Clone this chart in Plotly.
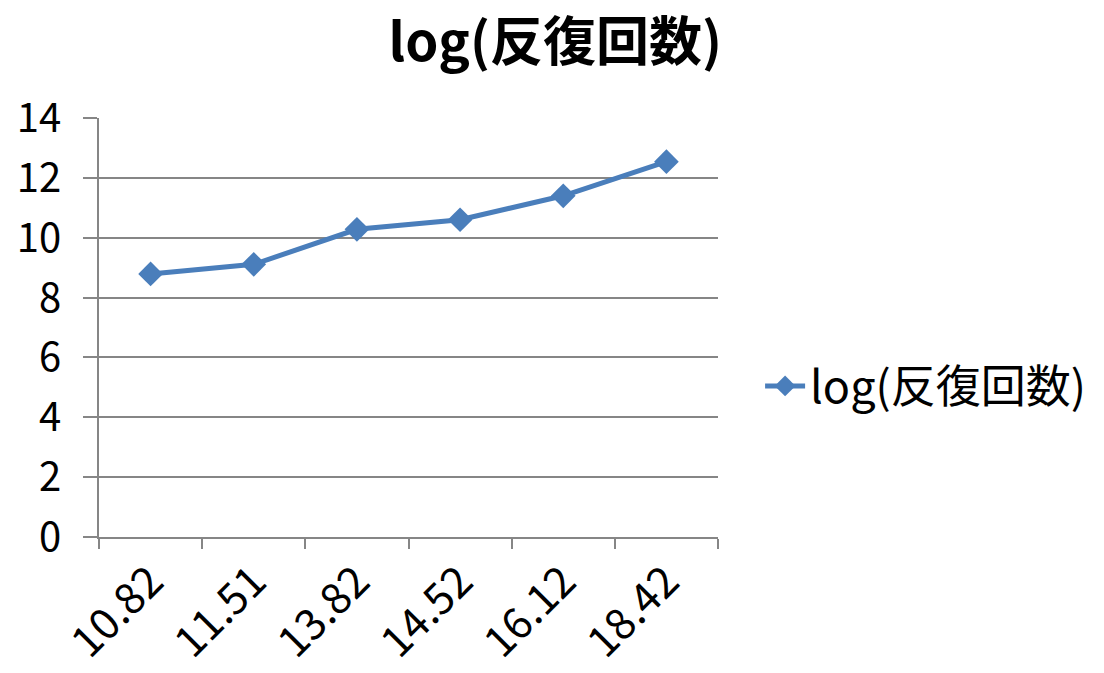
import plotly.graph_objects as go

categories = ["10.82", "11.51", "13.82", "14.52", "16.12", "18.42"]
log_counts = [8.79, 9.11, 10.28, 10.60, 11.40, 12.54]
series_name = "log(反復回数)"
y_ticks = [0, 2, 4, 6, 8, 10, 12, 14]

FONT = "Noto Sans CJK JP"
GRID = "#868686"

fig = go.Figure()
fig.add_trace(go.Scatter(
    x=categories,
    y=log_counts,
    name=series_name,
    mode="lines+markers",
    line=dict(color="#4A7EBB", width=5),
    marker=dict(symbol="diamond", size=19, color="#4A7EBB"),
))

fig.update_layout(
    width=1104,
    height=673,
    margin=dict(l=99, r=386, t=118, b=136, autoexpand=False),
    paper_bgcolor="white",
    plot_bgcolor="white",
    font=dict(family=FONT, size=40, color="black"),
    title=dict(
        text="<b>log(反復回数)</b>",
        x=0.503, xanchor="center",
        y=0.937, yanchor="middle",
        font=dict(family=FONT, size=53, color="black"),
    ),
    showlegend=True,
    legend=dict(
        x=1.068, xanchor="left",
        y=0.36, yanchor="middle",
        font=dict(family=FONT, size=45),
        bgcolor="rgba(0,0,0,0)",
        itemwidth=40,
    ),
    xaxis=dict(
        type="category",
        range=[-0.5, len(categories) - 0.5],
        automargin=False,
        tickson="boundaries",
        ticks="outside",
        ticklen=10,
        tickwidth=1.5,
        tickcolor=GRID,
        showline=True,
        linecolor=GRID,
        linewidth=1.5,
        showgrid=False,
        tickangle=-45,
        tickfont=dict(family=FONT, size=43),
    ),
    yaxis=dict(
        range=[0, 14],
        tickvals=y_ticks,
        automargin=False,
        ticks="outside",
        ticklen=14,
        tickwidth=1.5,
        tickcolor=GRID,
        showline=True,
        linecolor=GRID,
        linewidth=1.5,
        showgrid=True,
        gridcolor=GRID,
        gridwidth=1.5,
        zeroline=False,
        tickfont=dict(family=FONT, size=40),
        ticklabelstandoff=14,
    ),
)

fig.write_html("out.html")
